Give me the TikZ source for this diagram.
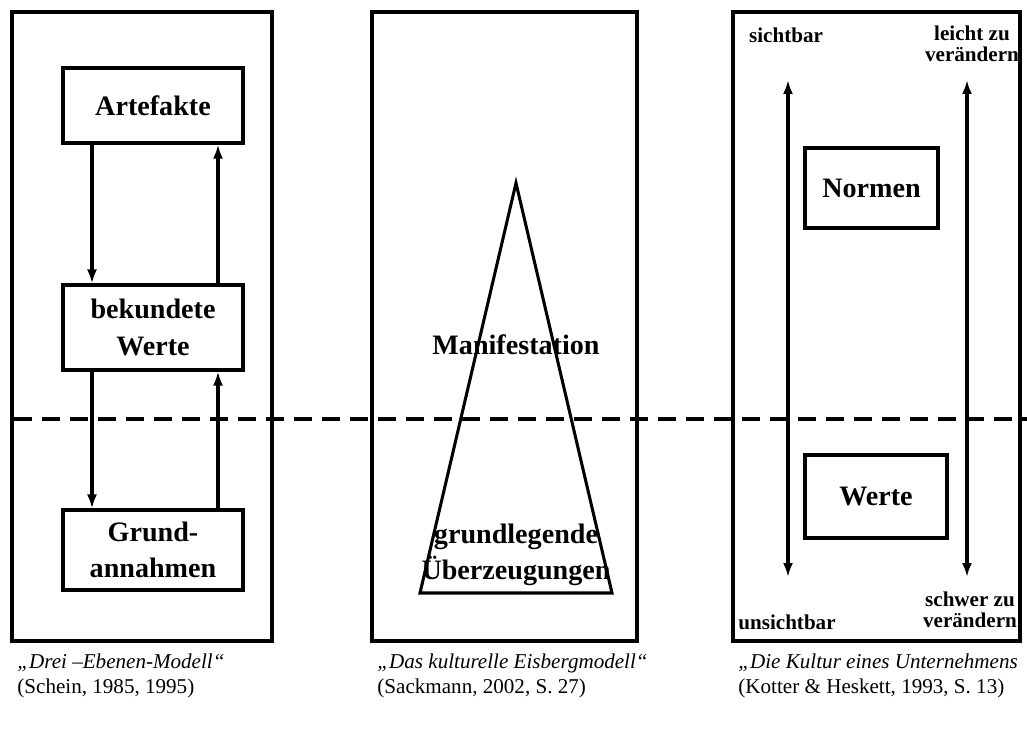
\documentclass[tikz,border=0pt]{standalone}
\usepackage{fontspec}
\setmainfont{Liberation Serif}
\usetikzlibrary{arrows.meta}

\def\px{0.3mm}

\begin{document}
\begin{tikzpicture}[x=\px,y=-\px,line width=2.6pt]
    \tikzstyle{level}=[draw=black,line width=2.6pt,inner sep=0pt,align=center,font=\fontsize{24}{31}\selectfont\bfseries]
    \tikzstyle{flow}=[line width=3pt,-{Latex[length=4.2mm,width=3mm]}]
    \tikzstyle{both}=[line width=3pt,{Latex[length=4.2mm,width=3mm]}-{Latex[length=4.2mm,width=3mm]}]
    \tikzstyle{side}=[align=center,font=\fontsize{18}{18}\selectfont\bfseries]
    \tikzstyle{src}=[anchor=west,align=left,font=\fontsize{18}{21}\selectfont]

    \useasboundingbox (0,0) rectangle (1027,729);

    % three frames
    \draw (12,12) rectangle (272,641);
    \draw (372,12) rectangle (637,641);
    \draw (733,12) rectangle (1020,641);

    % Schein
    \node[level,minimum width=180*\px,minimum height=75*\px] (A) at (153,105.5) {Artefakte};
    \node[level,minimum width=180*\px,minimum height=85*\px] (W) at (153,327.5) {bekundete\\Werte};
    \node[level,minimum width=180*\px,minimum height=80*\px] (G) at (153,550) {Grund-\\annahmen};

    \coordinate (dn) at (92,0);
    \coordinate (up) at (218,0);
    \draw[flow] (A.south -| dn) -- (W.north -| dn);
    \draw[flow] (W.north -| up) -- (A.south -| up);
    \draw[flow] (W.south -| dn) -- (G.north -| dn);
    \draw[flow] (G.north -| up) -- (W.south -| up);

    % Sackmann
    \coordinate (T-1) at (516,183);
    \coordinate (T-2) at (612,593);
    \coordinate (T-3) at (420,593);
    \draw (T-1) -- (T-2) -- (T-3) -- cycle;
    \node[font=\fontsize{24}{31}\selectfont\bfseries] (M) at (516,345) {Manifestation};
    \node[align=center,font=\fontsize{24}{31}\selectfont\bfseries] (U) at (516,555) {grundlegende\\Überzeugungen};

    % Kotter & Heskett
    \node[level,minimum width=133*\px,minimum height=80*\px] (N) at (871.5,188) {Normen};
    \node[level,minimum width=142*\px,minimum height=83*\px] (V) at (876,496.5) {Werte};

    \coordinate (S-1) at (788,80);
    \coordinate (S-2) at (788,577);
    \coordinate (C-1) at (967,80);
    \coordinate (C-2) at (967,577);
    \draw[both] (S-1) -- (S-2);
    \draw[both] (C-1) -- (C-2);

    \node[side] (s) at (786,35) {sichtbar};
    \node[side] (us) at (787,622) {unsichtbar};
    \node[side] (l) at (972,44) {leicht zu\\verändern};
    \node[side] (h) at (970,610) {schwer zu\\verändern};

    % water line
    \coordinate (dL) at (14,419);
    \coordinate (dR) at (1027,419);
    \draw[line width=2.8pt,dash pattern=on 18*\px off 10*\px] (dL) -- (dR);

    % sources
    \node[src] (q1) at (12,676) {\textit{„Drei –Ebenen-Modell“}\\(Schein, 1985, 1995)};
    \node[src] (q2) at (372,676) {\textit{„Das kulturelle Eisbergmodell“}\\(Sackmann, 2002, S. 27)};
    \node[src] (q3) at (733,676) {\textit{„Die Kultur eines Unternehmens}\\(Kotter \& Heskett, 1993, S. 13)};
\end{tikzpicture}
\end{document}
